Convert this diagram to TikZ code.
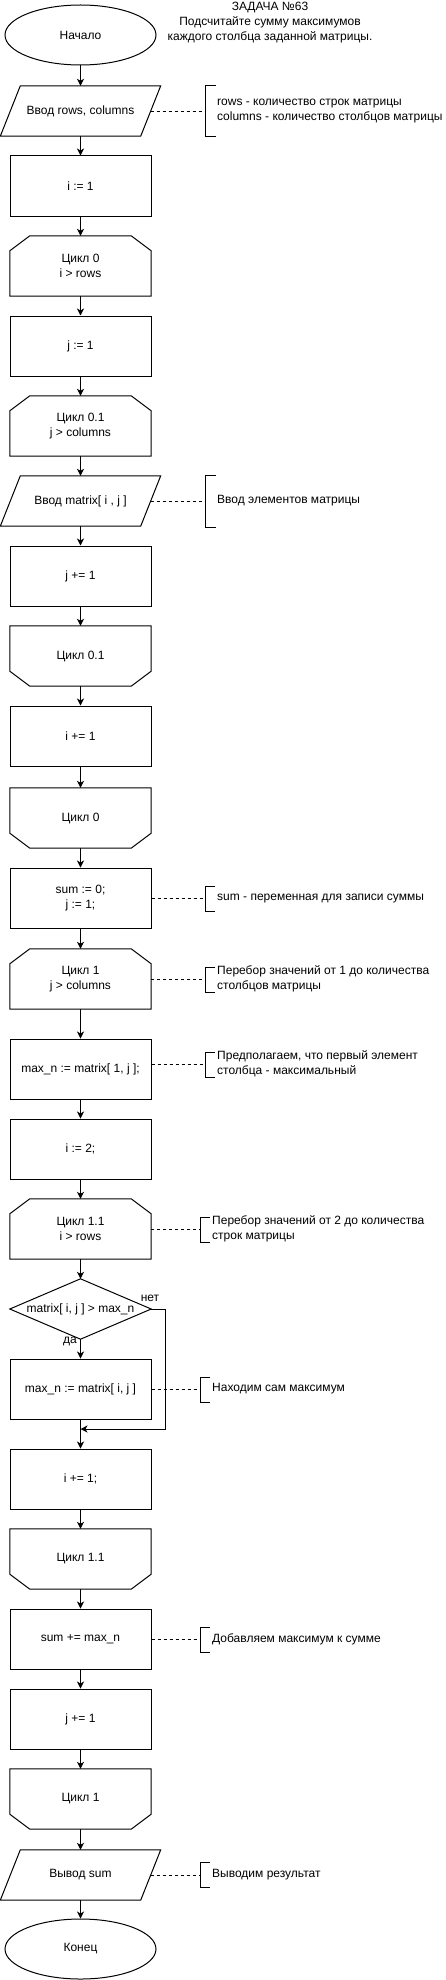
\documentclass[tikz,border=0pt]{standalone}
\usepackage{fontspec}
\setmainfont{Liberation Sans}
\usetikzlibrary{arrows.meta,shapes.geometric,calc}
\newcommand\loopstartshape[1]{%
  \draw[outline] ($(#1.north west)+(20,0)$) -- ($(#1.north east)+(-20,0)$) -- ($(#1.north east)+(0,15)$) -- (#1.south east) -- (#1.south west) -- ($(#1.north west)+(0,15)$) -- cycle;}
\newcommand\loopendshape[1]{%
  \draw[outline] (#1.north west) -- (#1.north east) -- ($(#1.south east)+(0,-15)$) -- ($(#1.south east)+(-20,0)$) -- ($(#1.south west)+(20,0)$) -- ($(#1.south west)+(0,-15)$) -- cycle;}
\newcommand\ioshape[1]{%
  \draw[outline] ($(#1.north west)+(10,0)$) -- ($(#1.north east)+(10,0)$) -- ($(#1.south east)+(-10,0)$) -- ($(#1.south west)+(-10,0)$) -- cycle;}
\begin{document}
\begin{tikzpicture}[x=1pt,y=-1pt,
  every node/.style={font=\fontsize{12}{15}\selectfont, align=center, text=black},
  proc/.style={draw, line width=1pt, minimum width=141pt, minimum height=60pt, inner sep=0pt},
  blank/.style={minimum width=141pt, minimum height=60pt, inner sep=0pt},
  io/.style={minimum width=140pt, minimum height=50pt, inner sep=0pt},
  term/.style={draw, line width=1pt, ellipse, minimum width=151pt, minimum height=60pt, inner sep=0pt},
  flow/.style={line width=1pt, -{Stealth[length=7pt,width=7pt,inset=2pt]}},
  outline/.style={line width=1pt, line join=miter},
  note/.style={anchor=west, align=left, inner sep=0pt},
  notelink/.style={line width=0.8pt, dash pattern=on 3pt off 3pt},
  bracket/.style={line width=1pt}
]
\useasboundingbox (0,0) rectangle (446,1980);

% title
\node (title) at (270,23) {ЗАДАЧА №63\\Подсчитайте сумму максимумов\\каждого столбца заданной матрицы.};

% main column
\node[term] (start) at (80.5,35) {Начало};
\node[io] (in1) at (80.5,111) {Ввод rows, columns};
\node[proc] (i1) at (80.5,186) {i := 1};
\node[blank] (loop0) at (80.5,266) {Цикл 0\\i > rows};
\node[proc] (j1) at (80.5,346) {j := 1};
\node[blank] (loop01) at (80.5,426) {Цикл 0.1\\j > columns};
\node[io] (inm) at (80.5,501) {Ввод matrix[ i , j ]};
\node[proc] (jp1) at (80.5,576) {j += 1};
\node[blank] (end01) at (80.5,656) {Цикл 0.1};
\node[proc] (ip1) at (80.5,736) {i += 1};
\node[blank] (end0) at (80.5,818) {Цикл 0};
\node[proc] (sum0) at (80.5,898) {sum := 0;\\j := 1;};
\node[blank] (loop1) at (80.5,979) {Цикл 1\\j > columns};
\node[proc] (maxn1) at (80.5,1069) {max\_n := matrix[ 1, j ];};
\node[proc] (i2) at (80.5,1149) {i := 2;};
\node[blank] (loop11) at (80.5,1229) {Цикл 1.1\\i > rows};
\node[blank] (dia) at (80.5,1309) {matrix[ i, j ] > max\_n};
\node[proc] (maxn) at (80.5,1389) {max\_n := matrix[ i, j ]};
\node[proc] (ip1b) at (80.5,1479) {i += 1;};
\node[blank] (end11) at (80.5,1559) {Цикл 1.1};
\node[proc] (sumadd) at (80.5,1639) {sum += max\_n};
\node[proc] (jp1b) at (80.5,1719) {j += 1};
\node[blank] (end1) at (80.5,1799) {Цикл 1};
\node[io] (out) at (80.5,1875) {Вывод sum};
\node[term] (finish) at (80.5,1949) {Конец};

% outlines
\ioshape{in1}
\loopstartshape{loop0}
\loopstartshape{loop01}
\ioshape{inm}
\loopendshape{end01}
\loopendshape{end0}
\loopstartshape{loop1}
\loopstartshape{loop11}
\draw[outline] (dia.west) -- (dia.north) -- (dia.east) -- (dia.south) -- cycle;
\loopendshape{end11}
\loopendshape{end1}
\ioshape{out}

% connectors
\draw[flow] (start.south) -- (in1.north);
\draw[flow] (in1.south) -- (i1.north);
\draw[flow] (i1.south) -- (loop0.north);
\draw[flow] (loop0.south) -- (j1.north);
\draw[flow] (j1.south) -- (loop01.north);
\draw[flow] (loop01.south) -- (inm.north);
\draw[flow] (inm.south) -- (jp1.north);
\draw[flow] (jp1.south) -- (end01.north);
\draw[flow] (end01.south) -- (ip1.north);
\draw[flow] (ip1.south) -- (end0.north);
\draw[flow] (end0.south) -- (sum0.north);
\draw[flow] (sum0.south) -- (loop1.north);
\draw[flow] (loop1.south) -- (maxn1.north);
\draw[flow] (maxn1.south) -- (i2.north);
\draw[flow] (i2.south) -- (loop11.north);
\draw[flow] (loop11.south) -- (dia.north);
\draw[flow] (dia.south) -- (maxn.north);
\node (yes) at (70,1341) {да};
\node (no) at (150,1298) {нет};
\coordinate (merge) at (80.5,1429);
\coordinate (nocorner) at (165,1429);
\draw[flow] (dia.east) -| (nocorner) -- (merge);
\draw[line width=1pt] (maxn.south) -- (merge);
\draw[flow] (merge) -- (ip1b.north);
\draw[flow] (ip1b.south) -- (end11.north);
\draw[flow] (end11.south) -- (sumadd.north);
\draw[flow] (sumadd.south) -- (jp1b.north);
\draw[flow] (jp1b.south) -- (end1.north);
\draw[flow] (end1.south) -- (out.north);
\draw[flow] (out.south) -- (finish.north);

% annotations
\node[note] (n1) at (217,111) {rows - количество строк матрицы\\columns - количество столбцов матрицы};
\draw[bracket] (216,86) -- (205,86) -- (205,137) -- (216,137);
\coordinate (b1) at (205,111);
\draw[notelink] (in1.east) -- (b1);

\node[note] (n2) at (217,501) {Ввод элементов матрицы};
\draw[bracket] (216,475) -- (205,475) -- (205,527) -- (216,527);
\coordinate (b2) at (205,501);
\draw[notelink] (inm.east) -- (b2);

\node[note] (n3) at (217,899) {sum - переменная для записи суммы};
\draw[bracket] (215,886) -- (205,886) -- (205,911) -- (215,911);
\coordinate (b3) at (205,898);
\draw[notelink] (sum0.east) -- (b3);

\node[note] (n4) at (217,979) {Перебор значений от 1 до количества\\столбцов матрицы};
\draw[bracket] (215,967) -- (205,967) -- (205,992) -- (215,992);
\coordinate (b4) at (205,979);
\draw[notelink] (loop1.east) -- (b4);

\node[note] (n5) at (217,1064) {Предполагаем, что первый элемент\\столбца - максимальный};
\draw[bracket] (215,1052) -- (205,1052) -- (205,1077) -- (215,1077);
\coordinate (b5) at (205,1064);
\draw[notelink] (maxn1.east |- b5) -- (b5);

\node[note] (n6) at (212,1229) {Перебор значений от 2 до количества\\строк матрицы};
\draw[bracket] (210,1217) -- (200,1217) -- (200,1242) -- (210,1242);
\coordinate (b6) at (200,1229);
\draw[notelink] (loop11.east) -- (b6);

\node[note] (n7) at (212,1389) {Находим сам максимум};
\draw[bracket] (210,1377) -- (200,1377) -- (200,1402) -- (210,1402);
\coordinate (b7) at (200,1389);
\draw[notelink] (maxn.east) -- (b7);

\node[note] (n8) at (212,1639) {Добавляем максимум к сумме};
\draw[bracket] (210,1627) -- (200,1627) -- (200,1652) -- (210,1652);
\coordinate (b8) at (200,1639);
\draw[notelink] (sumadd.east) -- (b8);

\node[note] (n9) at (212,1875) {Выводим результат};
\draw[bracket] (210,1862) -- (200,1862) -- (200,1887) -- (210,1887);
\coordinate (b9) at (200,1875);
\draw[notelink] (out.east) -- (b9);
\end{tikzpicture}
\end{document}
